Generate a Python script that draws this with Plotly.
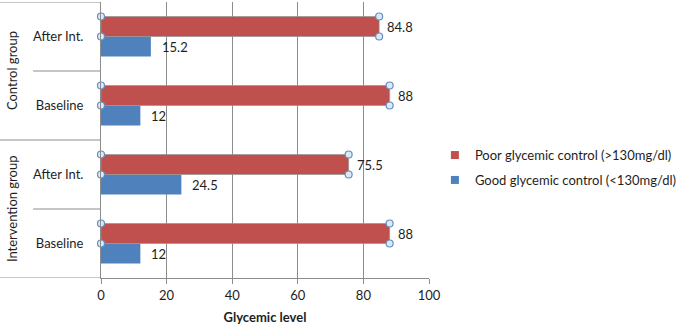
import plotly.graph_objects as go

# ---- data ----
categories = ["Baseline", "After Int.", "Baseline", "After Int."]   # bottom -> top
groups = ["Intervention group", "Control group"]
poor_values = [88, 75.5, 88, 84.8]
good_values = [12, 24.5, 12, 15.2]
poor_name = "Poor glycemic control (>130mg/dl)"
good_name = "Good glycemic control (<130mg/dl)"
x_ticks = [0, 20, 40, 60, 80, 100]
x_title = "Glycemic level"

RED = "#C0504D"
BLUE = "#4F81BD"
GRID = "#8c8c8c"
TXT = "#1e1e1e"
FONT = "Lato, 'Open Sans', sans-serif"
W = 0.29  # bar thickness (category units)

ypos = list(range(len(categories)))

fig = go.Figure()

fig.add_trace(go.Bar(
    y=ypos, x=good_values, orientation="h", width=W, offset=-W,
    marker=dict(color=BLUE, line=dict(width=0)), showlegend=False, hoverinfo="skip",
))
fig.add_trace(go.Bar(
    y=ypos, x=poor_values, orientation="h", width=W, offset=0,
    marker=dict(color=RED, line=dict(width=1, color="rgba(150,150,150,0.7)")),
    showlegend=False, hoverinfo="skip",
))

# selection handles at the corners of the red series
hx, hy = [], []
for y, v in zip(ypos, poor_values):
    hx += [0, v, 0, v]
    hy += [y + W, y + W, y, y]
fig.add_trace(go.Scatter(
    x=hx, y=hy, mode="markers", cliponaxis=False, showlegend=False, hoverinfo="skip",
    marker=dict(symbol="circle", size=7, color="#dfe9f5", line=dict(color="#5f8fc2", width=1.2)),
))

# legend entries
fig.add_trace(go.Scatter(x=[None], y=[None], mode="markers", name=poor_name, legendgroup="p",
                         marker=dict(symbol="square", size=8, color=RED)))
fig.add_trace(go.Scatter(x=[None], y=[None], mode="markers", name=good_name, legendgroup="g",
                         marker=dict(symbol="square", size=8, color=BLUE)))

# value labels
for y, v in zip(ypos, poor_values):
    fig.add_annotation(x=v, y=y + W / 2, text=f"{v:g}", showarrow=False, xanchor="left",
                       xshift=6, font=dict(size=13, color=TXT, family=FONT))
for y, v in zip(ypos, good_values):
    fig.add_annotation(x=v, y=y - W / 2, text=f"{v:g}", showarrow=False, xanchor="left",
                       xshift=9, font=dict(size=13, color=TXT, family=FONT))

# group labels (rotated)
for i, g in enumerate(groups):
    fig.add_annotation(xref="paper", x=-0.271, y=2 * i + 0.5, text=g, textangle=-90,
                       showarrow=False, xanchor="center", yanchor="middle",
                       font=dict(size=13, color=TXT, family=FONT))

# category divider lines in the label area
line_style = dict(color=GRID, width=1)
for yv in [0.5, 2.5]:
    fig.add_shape(type="line", xref="paper", x0=-0.207, x1=0, y0=yv, y1=yv, line=line_style)
for yv in [1.5, 3.5]:
    fig.add_shape(type="line", xref="paper", x0=-0.308, x1=0, y0=yv, y1=yv, line=line_style)
fig.add_shape(type="line", xref="paper", x0=-0.308, x1=0, y0=-0.5, y1=-0.5, line=line_style)

fig.update_layout(
    width=685, height=326,
    margin=dict(l=101, r=256, t=2, b=48),
    paper_bgcolor="white", plot_bgcolor="white",
    font=dict(family=FONT, size=13, color=TXT),
    xaxis=dict(range=[0, 100], tickvals=x_ticks, showgrid=True, gridcolor=GRID, gridwidth=1,
               zeroline=False, showline=True, linecolor=GRID, linewidth=1,
               ticks="outside", ticklen=5, tickcolor=GRID,
               tickfont=dict(size=13, color=TXT),
               title=dict(text=f"<b>{x_title}</b>", font=dict(size=13, color=TXT), standoff=11)),
    yaxis=dict(range=[-0.5, 3.5], tickvals=ypos, ticktext=categories, showgrid=False,
               zeroline=False, showline=True, linecolor=GRID, linewidth=1, ticks="",
               ticklabelstandoff=14, tickfont=dict(size=13, color=TXT)),
    legend=dict(x=1.018, y=0.40, xanchor="left", yanchor="middle", traceorder="grouped",
                tracegroupgap=5, font=dict(size=13, color=TXT, family=FONT),
                bgcolor="rgba(0,0,0,0)"),
)

fig.write_html("out.html", config={"displayModeBar": False},
               post_script="document.body.style.margin='0';")
